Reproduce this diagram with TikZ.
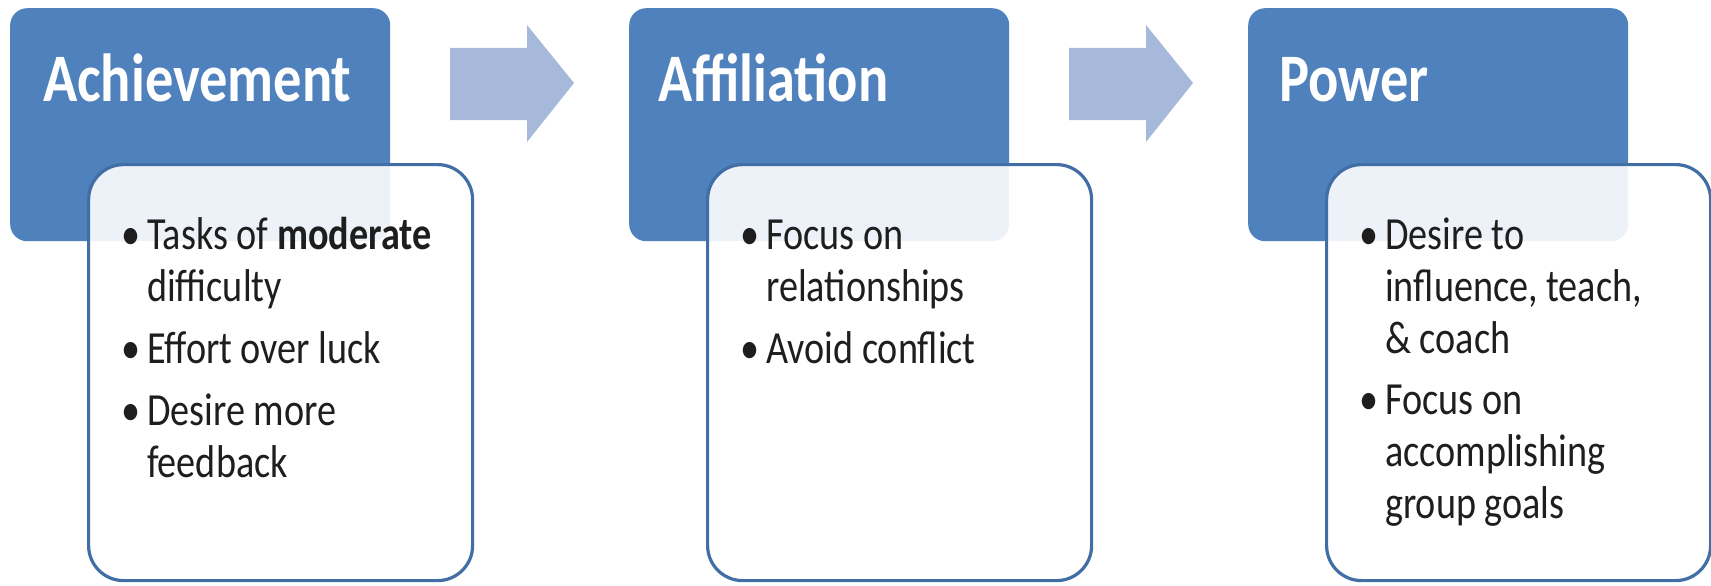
\documentclass[tikz,border=0pt]{standalone}
\usepackage{fontspec}
\setmainfont{Carlito}[FakeStretch=0.83]
\usetikzlibrary{positioning}

\definecolor{headblue}{RGB}{79,129,189}
\definecolor{edgeblue}{RGB}{66,110,166}
\definecolor{arrowblue}{RGB}{167,185,218}
\definecolor{bodytext}{RGB}{30,30,30}

\tikzset{
	headbox/.style={fill=headblue, rounded corners=17pt, minimum width=380pt, minimum height=233pt, inner sep=0pt, anchor=north west},
	headtext/.style={text=white, font=\fontsize{68}{70}\selectfont\bfseries, inner sep=0pt, anchor=base west},
	listbox/.style={draw=edgeblue, line width=3.2pt, fill=white, fill opacity=0.9, rounded corners=35pt, minimum width=384pt, minimum height=416pt, inner sep=0pt},
	listtext/.style={text=bodytext, font=\fontsize{46}{52}\selectfont, inner sep=0pt, anchor=base west},
}

\begin{document}
\begin{tikzpicture}[x=1pt,y=-1pt]
	\useasboundingbox (0,0) rectangle (1711,586);

	% title boxes
	\node[headbox] (ach) at (10,8) {};
	\node[headbox] (aff) at (629,8) {};
	\node[headbox] (pow) at (1248,8) {};

	% arrows in between
	\fill[arrowblue] (450,48) -- (527,48) -- (527,25) -- (574,83) -- (527,142) -- (527,120) -- (450,120) -- cycle;
	\fill[arrowblue, xshift=619pt] (450,48) -- (527,48) -- (527,25) -- (574,83) -- (527,142) -- (527,120) -- (450,120) -- cycle;

	% list boxes
	\node[listbox, below right=155pt and 77pt of ach.north west] (achlist) {};
	\node[listbox, below right=155pt and 77pt of aff.north west] (afflist) {};
	\node[listbox, below right=155pt and 77pt of pow.north west] (powlist) {};

	% titles
	\node[headtext] (achtitle) at ([xshift=33pt,yshift=-94pt]ach.north west) {Achievement};
	\node[headtext] (afftitle) at ([xshift=29pt,yshift=-94pt]aff.north west) {Affiliation};
	\node[headtext] (powtitle) at ([xshift=31pt,yshift=-94pt]pow.north west) {Power};

	% items
	\node[listtext] (achitems) at ([xshift=34pt,yshift=-86pt]achlist.north west) {%
		\begin{tabular}[t]{@{}p{26pt}@{}l@{}}
			\textbullet & Tasks of \textbf{moderate}\\
			 & difficulty\\[10pt]
			\textbullet & Effort over luck\\[10pt]
			\textbullet & Desire more\\
			 & feedback
		\end{tabular}};
	\node[listtext] (affitems) at ([xshift=34pt,yshift=-86pt]afflist.north west) {%
		\begin{tabular}[t]{@{}p{26pt}@{}l@{}}
			\textbullet & Focus on\\
			 & relationships\\[10pt]
			\textbullet & Avoid conflict
		\end{tabular}};
	\node[listtext] (powitems) at ([xshift=34pt,yshift=-86pt]powlist.north west) {%
		\begin{tabular}[t]{@{}p{26pt}@{}l@{}}
			\textbullet & Desire to\\
			 & influence, teach,\\
			 & \& coach\\[9pt]
			\textbullet & Focus on\\
			 & accomplishing\\
			 & group goals
		\end{tabular}};
\end{tikzpicture}
\end{document}
